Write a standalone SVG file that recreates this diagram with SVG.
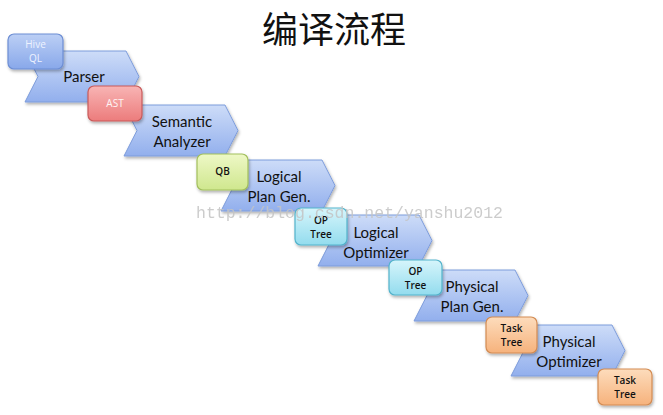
<svg xmlns="http://www.w3.org/2000/svg" width="663" height="415" viewBox="0 0 663 415">
<defs>
<linearGradient id="gBlue" x1="0" y1="0" x2="0" y2="1"><stop offset="0" stop-color="#cddcf8"/><stop offset="1" stop-color="#92afed"/></linearGradient>
<linearGradient id="gBox" x1="0" y1="0" x2="0" y2="1"><stop offset="0" stop-color="#bccff5"/><stop offset="1" stop-color="#88a8ea"/></linearGradient>
<linearGradient id="gRed" x1="0" y1="0" x2="0" y2="1"><stop offset="0" stop-color="#f8b4b4"/><stop offset="1" stop-color="#ec7c7c"/></linearGradient>
<linearGradient id="gGreen" x1="0" y1="0" x2="0" y2="1"><stop offset="0" stop-color="#eef8c6"/><stop offset="1" stop-color="#cfe78e"/></linearGradient>
<linearGradient id="gCyan" x1="0" y1="0" x2="0" y2="1"><stop offset="0" stop-color="#d6f5fb"/><stop offset="1" stop-color="#93dcee"/></linearGradient>
<linearGradient id="gOrange" x1="0" y1="0" x2="0" y2="1"><stop offset="0" stop-color="#fddcbc"/><stop offset="1" stop-color="#f6b27c"/></linearGradient>
<filter id="sh" x="-20%" y="-20%" width="150%" height="160%"><feDropShadow dx="1" dy="2" stdDeviation="1.5" flood-color="#000" flood-opacity="0.3"/></filter>
</defs>
<style>
.chev{fill:url(#gBlue);stroke:#7d9cdb;stroke-width:1;filter:url(#sh)}
.box{stroke-width:1.2;filter:url(#sh)}
.lbl{font-family:Lato,"Open Sans",sans-serif;font-size:15px;fill:#111;text-anchor:middle}
.sm{font-family:"Open Sans",Lato,sans-serif;font-size:10px;font-weight:600;text-anchor:middle;fill:#111}
.wm{font-family:"Liberation Mono",monospace;font-size:16.5px;fill:#c4c4c4;opacity:0.85}
</style>
<rect width="663" height="415" fill="#fff"/>
<text x="334" y="43" font-family="'Noto Sans CJK SC',sans-serif" font-size="36" fill="#111" text-anchor="middle">编译流程</text>
<g id="connectors"/>
<g id="parser"><path class="chev" d="M25,51 H126 L139,76.5 L126,102 H25 L38,76.5 Z"/><text class="lbl" x="84" y="82">Parser</text></g>
<g id="semantic"><path class="chev" d="M124,105 H225 L238,130.5 L225,156 H124 L137,130.5 Z"/><text class="lbl" x="182" y="127">Semantic</text><text class="lbl" x="182" y="147">Analyzer</text></g>
<g id="logicalplan"><path class="chev" d="M221,160 H322 L335,185.5 L322,211 H221 L234,185.5 Z"/><text class="lbl" x="279" y="182">Logical</text><text class="lbl" x="279" y="202">Plan Gen.</text></g>
<g id="logicalopt"><path class="chev" d="M318,215 H419 L432,240.5 L419,266 H318 L331,240.5 Z"/><text class="lbl" x="376" y="238">Logical</text><text class="lbl" x="376" y="258">Optimizer</text></g>
<g id="physicalplan"><path class="chev" d="M414,270 H515 L528,295.5 L515,321 H414 L427,295.5 Z"/><text class="lbl" x="472" y="292">Physical</text><text class="lbl" x="472" y="312">Plan Gen.</text></g>
<g id="physicalopt"><path class="chev" d="M511,325 H612 L625,350.5 L612,376 H511 L524,350.5 Z"/><text class="lbl" x="569" y="347">Physical</text><text class="lbl" x="569" y="367">Optimizer</text></g>
<g id="hiveql"><rect class="box" x="8" y="34" width="55" height="35" rx="6" fill="url(#gBox)" stroke="#6d8ed4"/><text class="sm" x="35.5" y="48" style="fill:#eef3ff;font-weight:400">Hive</text><text class="sm" x="35.5" y="62" style="fill:#eef3ff;font-weight:400">QL</text></g>
<g id="ast"><rect class="box" x="88" y="86" width="54" height="35" rx="6" fill="url(#gRed)" stroke="#c95a5a"/><text class="sm" x="115" y="107" style="fill:#fff4f4;font-weight:400">AST</text></g>
<g id="qb"><rect class="box" x="197" y="154" width="51" height="36" rx="6" fill="url(#gGreen)" stroke="#a2bf5c"/><text class="sm" x="222.5" y="175">QB</text></g>
<g id="optree1"><rect class="box" x="295" y="208" width="52" height="37" rx="6" fill="url(#gCyan)" stroke="#52b3cb"/><text class="sm" x="321" y="224">OP</text><text class="sm" x="321" y="238">Tree</text></g>
<g id="optree2"><rect class="box" x="389" y="260" width="53" height="35" rx="6" fill="url(#gCyan)" stroke="#52b3cb"/><text class="sm" x="415.5" y="275">OP</text><text class="sm" x="415.5" y="289">Tree</text></g>
<g id="tasktree1"><rect class="box" x="486" y="317" width="51" height="36" rx="6" fill="url(#gOrange)" stroke="#d38b52"/><text class="sm" x="511.5" y="332">Task</text><text class="sm" x="511.5" y="346">Tree</text></g>
<g id="tasktree2"><rect class="box" x="598" y="369" width="54" height="36" rx="6" fill="url(#gOrange)" stroke="#d38b52"/><text class="sm" x="625" y="384">Task</text><text class="sm" x="625" y="398">Tree</text></g>
<text class="wm" x="196" y="218">http://blog.csdn.net/yanshu2012</text>
</svg>
